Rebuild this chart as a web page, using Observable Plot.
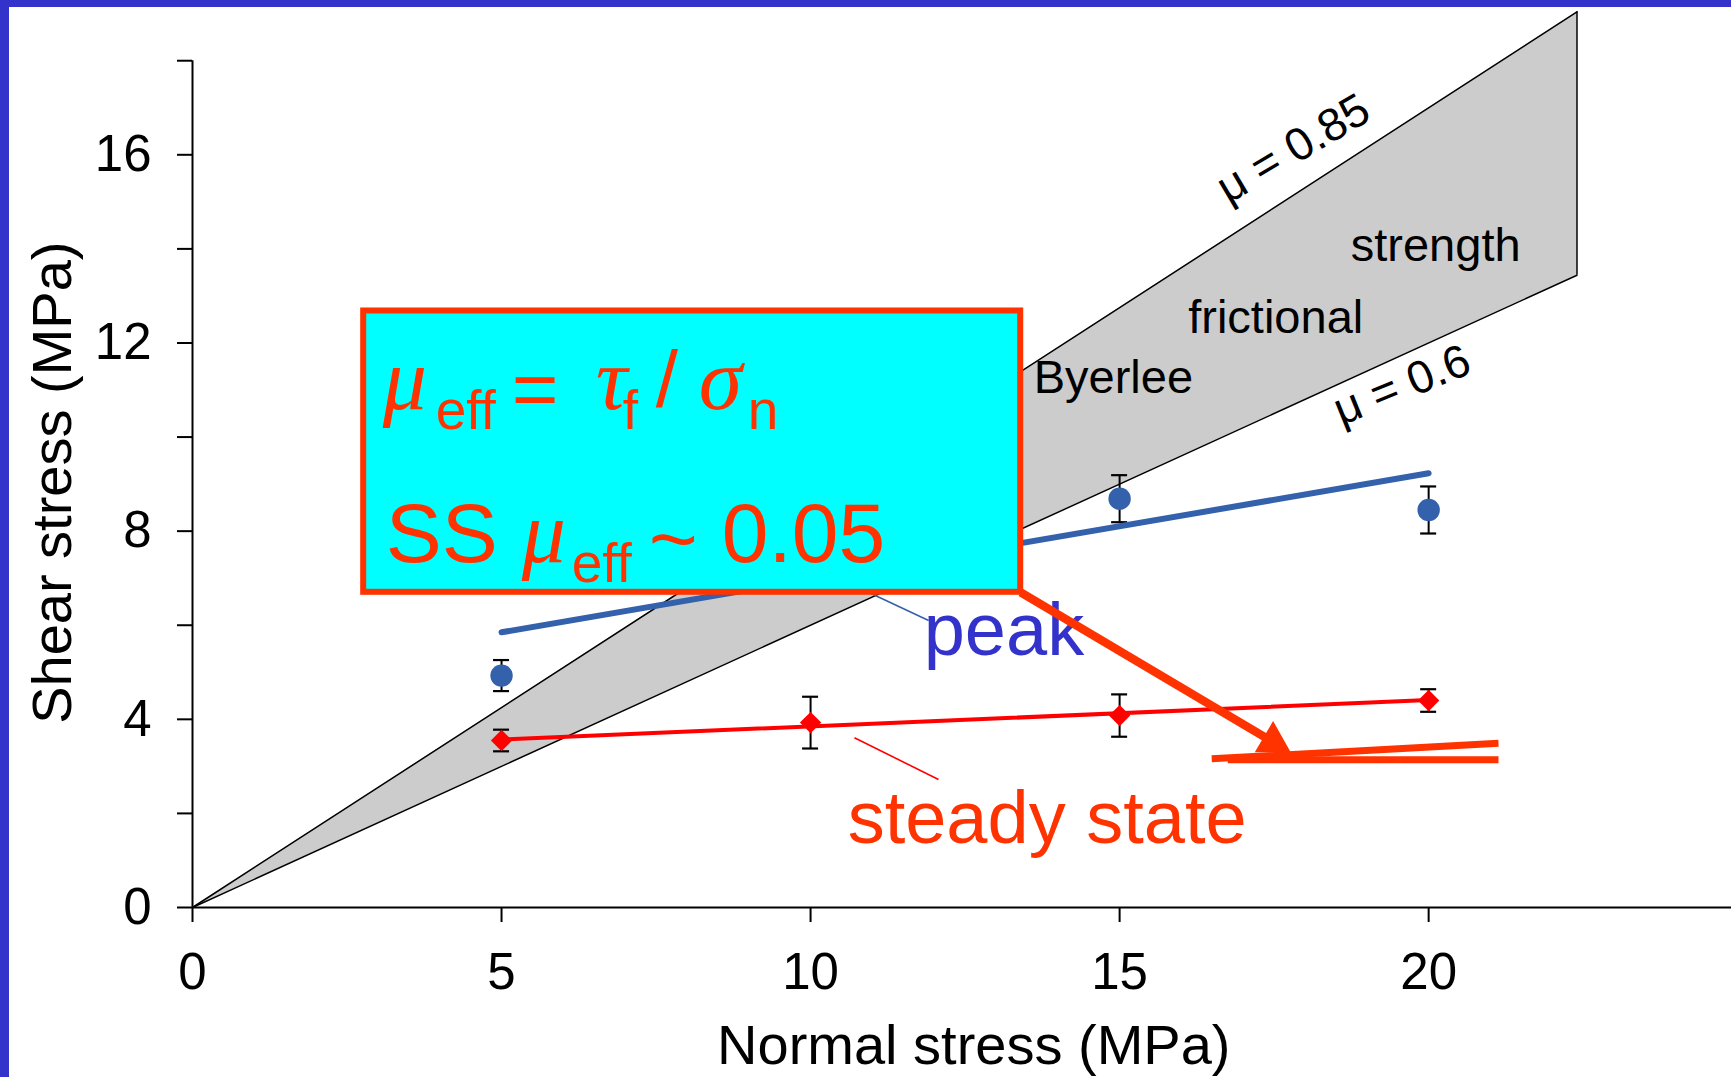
<!DOCTYPE html>
<html>
<head>
<meta charset="utf-8">
<script src="https://cdn.jsdelivr.net/npm/d3@7"></script>
<script src="https://cdn.jsdelivr.net/npm/@observablehq/plot@0.6"></script>
<style>
  html, body { margin: 0; padding: 0; background: #ffffff; }
  #frame { position: relative; width: 1731px; height: 1077px; overflow: hidden; background: #ffffff; }
  #frame svg { position: absolute; left: 0; top: 0; }
  .edge { position: absolute; background: #3333cc; z-index: 2; }
</style>
</head>
<body>
<div id="frame">
  <div class="edge" style="left:0;top:0;width:1731px;height:7px"></div>
  <div class="edge" style="left:0;top:0;width:9px;height:1077px"></div>
</div>
<script>
// ---- Measurements: shear stress vs normal stress (MPa) ----
const normalStress = [5, 10, 15, 20];
const peakShear    = [4.93, 7.4, 8.69, 8.45];
const peakError    = [0.33, 0.4, 0.5, 0.5];
const steadyShear  = [3.55, 3.93, 4.08, 4.40];
const steadyError  = [0.23, 0.55, 0.45, 0.24];

// Linear fits through each series (end points)
const fitX       = [5, 20];
const peakFitY   = [5.85, 9.23];
const steadyFitY = [3.57, 4.41];

// Byerlee friction envelope
const byerleeMu = [0.6, 0.85];
const byerleeSigmaMax = 22.4;

// Axis ticks
const xTicks = [0, 5, 10, 15, 20];
const yTicks = [0, 2, 4, 6, 8, 10, 12, 14, 16, 18];
const yTickLabels = [0, 4, 8, 12, 16];

// ---- Tables built from the arrays ----
const peak = normalStress.map((x, i) => ({x, y: peakShear[i], e: peakError[i]}));
const steady = normalStress.map((x, i) => ({x, y: steadyShear[i], e: steadyError[i]}));
const peakFit = fitX.map((x, i) => ({x, y: peakFitY[i]}));
const steadyFit = fitX.map((x, i) => ({x, y: steadyFitY[i]}));
const band = [0, byerleeSigmaMax].map(s => ({s, lo: byerleeMu[0] * s, hi: byerleeMu[1] * s}));

// ---- Annotation placement (data coordinates) ----
const box = {x1: 2.77, x2: 13.40, y1: 6.70, y2: 12.68};
const muLabels = [
  {text: "\u03bc = 0.85", x: 17.81, y: 16.13, rotate: -30.5},
  {text: "\u03bc = 0.6",  x: 19.57, y: 11.10, rotate: -22}
];
const bandWords = [
  {text: "Byerlee",    x: 13.61, y: 10.93},
  {text: "frictional", x: 16.11, y: 12.22},
  {text: "strength",   x: 18.74, y: 13.75}
];
const peakLeader = {x1: 10.97, y1: 6.68, x2: 11.91, y2: 6.10};
const steadyLeader = {x1: 10.71, y1: 3.61, x2: 12.07, y2: 2.72};
const arrowShaft = {x1: 13.40, y1: 6.70, x2: 17.48, y2: 3.52};
const arrowHead = {x: 17.48, y: 3.52, angle: 120.6};
const sketchFlat = {x1: 16.75, y1: 3.14, x2: 21.13, y2: 3.14};
const sketchSlope = {x1: 16.49, y1: 3.16, x2: 21.13, y2: 3.49};

// Formula pieces inside the box, offset in pixels from its top-left corner
const SANS = "Liberation Sans, Arial, sans-serif";
const SERIF = "Liberation Serif, Times New Roman, serif";
const formula = [
  {t: "\u03bc", dx: 19,  dy: 98.5,  size: 88, serif: true},
  {t: "eff",    dx: 72,  dy: 118.5, size: 55},
  {t: "=",      dx: 148, dy: 105.5, size: 80},
  {t: "\u03c4", dx: 232, dy: 98.5,  size: 88, serif: true},
  {t: "f",      dx: 259, dy: 118.5, size: 55},
  {t: "/",      dx: 292, dy: 96,    size: 80},
  {t: "\u03c3", dx: 335, dy: 98.5,  size: 88, serif: true},
  {t: "n",      dx: 384, dy: 118.5, size: 55},
  {t: "SS",     dx: 22,  dy: 251.5, size: 84},
  {t: "\u03bc", dx: 158, dy: 251.5, size: 88, serif: true},
  {t: "eff",    dx: 208, dy: 271.5, size: 55},
  {t: "~",      dx: 285, dy: 257,   size: 84},
  {t: "0.05",   dx: 358, dy: 251.5, size: 84}
];

const ORANGE = "#ff3300";
const BLUE = "#3461ab";
const RED = "#ff0000";

const marks = [
  // Byerlee band
  Plot.areaY(band, {x: "s", y1: "lo", y2: "hi", fill: "#cccccc"}),
  Plot.line(band, {x: "s", y: "lo", stroke: "#000", strokeWidth: 1.5}),
  Plot.line(band, {x: "s", y: "hi", stroke: "#000", strokeWidth: 1.5}),
  Plot.ruleX([band[1]], {x: "s", y1: "lo", y2: "hi", stroke: "#000", strokeWidth: 1.5}),

  // Axes
  Plot.ruleY([0], {stroke: "#000", strokeWidth: 2}),
  Plot.ruleX([0], {y1: 0, y2: 18, stroke: "#000", strokeWidth: 2}),
  Plot.axisX(xTicks, {tickSize: 15, tickPadding: 30, fontSize: 51, strokeWidth: 2, label: null}),
  Plot.axisY(yTicks, {tickSize: 15, tickPadding: 26, fontSize: 51, strokeWidth: 2, label: null,
    tickFormat: d => yTickLabels.includes(d) ? String(d) : ""}),
  Plot.text(["Normal stress (MPa)"], {x: () => 12.64, frameAnchor: "bottom", dy: 156,
    textAnchor: "middle", lineAnchor: "bottom", fontSize: 56, fill: "#000"}),
  Plot.text(["Shear stress (MPa)"], {y: () => 9.03, frameAnchor: "left", dx: -139,
    rotate: -90, textAnchor: "middle", lineAnchor: "middle", fontSize: 56, fill: "#000"}),

  // Envelope labels
  Plot.text(muLabels, {x: "x", y: "y", text: "text", rotate: "rotate", fontSize: 46,
    textAnchor: "middle", lineAnchor: "middle", fill: "#000"}),
  Plot.text(bandWords, {x: "x", y: "y", text: "text", fontSize: 47,
    textAnchor: "start", lineAnchor: "bottom", fill: "#000"}),

  // Error bars
  Plot.ruleX(peak, {x: "x", y1: d => d.y - d.e, y2: d => d.y + d.e, stroke: "#000", strokeWidth: 2}),
  Plot.ruleY(peak, {y: d => d.y + d.e, x1: "x", x2: "x", insetLeft: -8, insetRight: -8, stroke: "#000", strokeWidth: 2.2}),
  Plot.ruleY(peak, {y: d => d.y - d.e, x1: "x", x2: "x", insetLeft: -8, insetRight: -8, stroke: "#000", strokeWidth: 2.2}),
  Plot.ruleX(steady, {x: "x", y1: d => d.y - d.e, y2: d => d.y + d.e, stroke: "#000", strokeWidth: 2}),
  Plot.ruleY(steady, {y: d => d.y + d.e, x1: "x", x2: "x", insetLeft: -8, insetRight: -8, stroke: "#000", strokeWidth: 2.2}),
  Plot.ruleY(steady, {y: d => d.y - d.e, x1: "x", x2: "x", insetLeft: -8, insetRight: -8, stroke: "#000", strokeWidth: 2.2}),

  // Fits
  Plot.line(peakFit, {x: "x", y: "y", stroke: BLUE, strokeWidth: 6, strokeLinecap: "round"}),
  Plot.line(steadyFit, {x: "x", y: "y", stroke: RED, strokeWidth: 4, strokeLinecap: "round"}),

  // Points
  Plot.dot(peak, {x: "x", y: "y", r: 11.2, fill: BLUE, stroke: "none"}),
  Plot.dot(steady, {x: "x", y: "y", r: 9.6, symbol: "diamond2", fill: RED, stroke: "none"}),

  // Series labels and leaders
  Plot.link([peakLeader], {x1: "x1", y1: "y1", x2: "x2", y2: "y2", stroke: BLUE, strokeWidth: 1.6}),
  Plot.link([steadyLeader], {x1: "x1", y1: "y1", x2: "x2", y2: "y2", stroke: RED, strokeWidth: 1.6}),
  Plot.text(["peak"], {x: () => 11.83, y: () => 5.36, fontSize: 74, fill: "#3333cc",
    textAnchor: "start", lineAnchor: "bottom"}),
  Plot.text(["steady state"], {x: () => 10.60, y: () => 1.38, fontSize: 74, fill: ORANGE,
    textAnchor: "start", lineAnchor: "bottom"}),

  // Formula box
  Plot.rect([box], {x1: "x1", x2: "x2", y1: "y1", y2: "y2", fill: "#00ffff", stroke: ORANGE, strokeWidth: 6}),
  ...formula.map(f => Plot.text([f.t], {
    x: () => box.x1, y: () => box.y2, dx: f.dx, dy: f.dy,
    fontSize: f.size, fontFamily: f.serif ? SERIF : SANS, fontStyle: f.serif ? "italic" : "normal",
    textAnchor: "start", lineAnchor: "bottom", fill: ORANGE
  })),

  // Arrow to the low-friction sketch
  Plot.link([arrowShaft], {x1: "x1", y1: "y1", x2: "x2", y2: "y2", stroke: ORANGE, strokeWidth: 8.5}),
  Plot.dot([arrowHead], {x: "x", y: "y", symbol: "triangle", r: 13.4, rotate: "angle", fill: ORANGE, stroke: "none"}),
  Plot.link([sketchFlat], {x1: "x1", y1: "y1", x2: "x2", y2: "y2", stroke: ORANGE, strokeWidth: 7}),
  Plot.link([sketchSlope], {x1: "x1", y1: "y1", x2: "x2", y2: "y2", stroke: ORANGE, strokeWidth: 7})
];

const chart = Plot.plot({
  width: 1731,
  height: 1077,
  marginLeft: 192,
  marginRight: 0,
  marginTop: 0,
  marginBottom: 170,
  x: {domain: [0, 24.9]},
  y: {domain: [0, 19.28]},
  style: {background: "#ffffff", color: "#000", fontFamily: SANS, overflow: "visible"},
  marks
});

const frame = document.getElementById("frame");
frame.insertBefore(chart, frame.firstChild);
</script>
</body>
</html>
